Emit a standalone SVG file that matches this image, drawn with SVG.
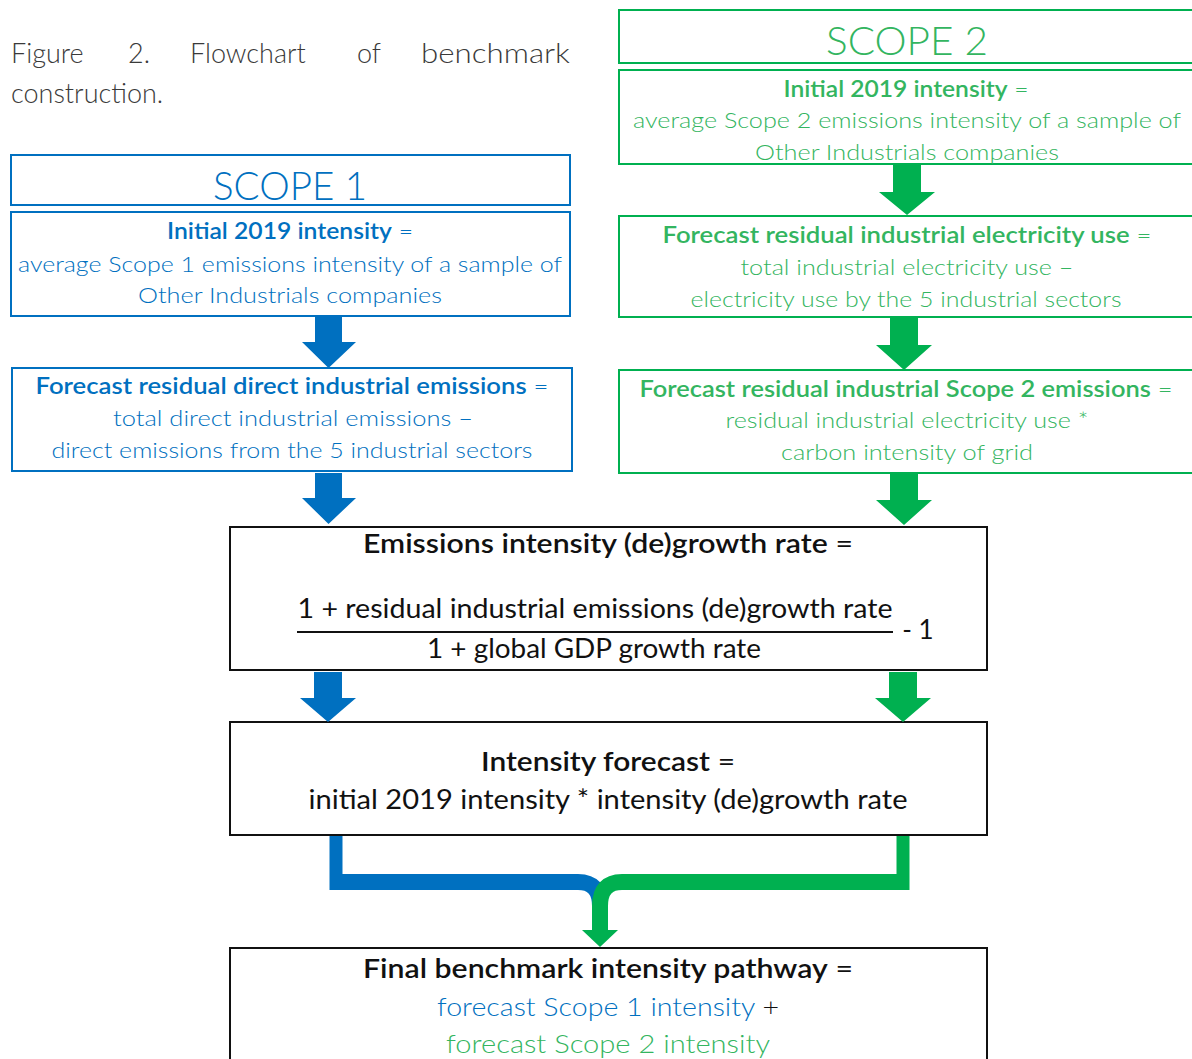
<svg xmlns="http://www.w3.org/2000/svg" width="1192" height="1059" viewBox="0 0 1192 1059">
<style>
text{font-family:Lato,"Noto Sans","DejaVu Sans",sans-serif;text-anchor:middle;font-weight:300}
.cap{font-size:27px;fill:#3a3a3a;text-anchor:start}
.t{font-size:22px}
.b{font-weight:600}
.blue{fill:#0070C0}
.green{fill:#33B560}
.blk{fill:#111}
.c{font-size:26px}
.r{font-weight:400}
.bb{fill:#fff;stroke:#0070C0;stroke-width:2}
.gb{fill:#fff;stroke:#00B050;stroke-width:2}
.kb{fill:#fff;stroke:#111;stroke-width:2}
.ba{fill:#0070C0}
.ga{fill:#00B050}
</style>
<g id="caption">
<text class="cap" x="11" y="63">Figure</text>
<text class="cap" x="128" y="63">2.</text>
<text class="cap" x="190" y="63">Flowchart</text>
<text class="cap" x="357" y="63">of</text>
<text class="cap" x="421" y="63" textLength="149" lengthAdjust="spacingAndGlyphs">benchmark</text>
<text class="cap" x="11" y="103">construction.</text>
</g>
<g id="scope1-title">
<rect class="bb" x="11" y="155" width="559" height="50"/>
<text class="blue" x="290" y="200" font-size="40" textLength="154" lengthAdjust="spacingAndGlyphs">SCOPE 1</text>
</g>
<g id="scope1-initial">
<rect class="bb" x="11" y="212" width="559" height="104"/>
<text class="t blue" x="290" y="239" textLength="246" lengthAdjust="spacingAndGlyphs"><tspan class="b">Initial 2019 intensity</tspan> =</text>
<text class="t blue" x="290" y="272" textLength="544" lengthAdjust="spacingAndGlyphs">average Scope 1 emissions intensity of a sample of</text>
<text class="t blue" x="290" y="303" textLength="304" lengthAdjust="spacingAndGlyphs">Other Industrials companies</text>
</g>
<g id="scope1-residual">
<rect class="bb" x="12" y="368" width="560" height="103"/>
<text class="t blue" x="292" y="394" textLength="513" lengthAdjust="spacingAndGlyphs"><tspan class="b">Forecast residual direct industrial emissions</tspan> =</text>
<text class="t blue" x="293" y="426" textLength="360" lengthAdjust="spacingAndGlyphs">total direct industrial emissions –</text>
<text class="t blue" x="292" y="458" textLength="481" lengthAdjust="spacingAndGlyphs">direct emissions from the 5 industrial sectors</text>
</g>
<g id="scope2-title">
<rect class="gb" x="619" y="10" width="590" height="53"/>
<text class="green" x="907" y="55" font-size="40" textLength="162" lengthAdjust="spacingAndGlyphs">SCOPE 2</text>
</g>
<g id="scope2-initial">
<rect class="gb" x="619" y="70" width="590" height="94"/>
<text class="t green" x="906" y="97" textLength="245" lengthAdjust="spacingAndGlyphs"><tspan class="b">Initial 2019 intensity</tspan> =</text>
<text class="t green" x="907" y="128" textLength="548" lengthAdjust="spacingAndGlyphs">average Scope 2 emissions intensity of a sample of</text>
<text class="t green" x="907" y="160" textLength="304" lengthAdjust="spacingAndGlyphs">Other Industrials companies</text>
</g>
<g id="scope2-electricity">
<rect class="gb" x="619" y="216" width="590" height="101"/>
<text class="t green" x="907" y="243" textLength="489" lengthAdjust="spacingAndGlyphs"><tspan class="b">Forecast residual industrial electricity use</tspan> =</text>
<text class="t green" x="907" y="275" textLength="333" lengthAdjust="spacingAndGlyphs">total industrial electricity use –</text>
<text class="t green" x="906" y="307" textLength="431" lengthAdjust="spacingAndGlyphs">electricity use by the 5 industrial sectors</text>
</g>
<g id="scope2-emissions">
<rect class="gb" x="619" y="370" width="590" height="103"/>
<text class="t green" x="906" y="397" textLength="533" lengthAdjust="spacingAndGlyphs"><tspan class="b">Forecast residual industrial Scope 2 emissions</tspan> =</text>
<text class="t green" x="907" y="428" textLength="363" lengthAdjust="spacingAndGlyphs">residual industrial electricity use *</text>
<text class="t green" x="907" y="460" textLength="252" lengthAdjust="spacingAndGlyphs">carbon intensity of grid</text>
</g>
<g id="growth-rate">
<rect class="kb" x="230" y="527" width="757" height="143"/>
<text class="c blk r" x="608" y="553" textLength="490" lengthAdjust="spacingAndGlyphs"><tspan class="b">Emissions intensity (de)growth rate</tspan> =</text>
<text class="c blk r" x="595" y="618" textLength="595" lengthAdjust="spacingAndGlyphs">1 + residual industrial emissions (de)growth rate</text>
<line x1="297" y1="632" x2="893" y2="632" stroke="#111" stroke-width="2"/>
<text class="c blk r" x="594" y="658" textLength="334" lengthAdjust="spacingAndGlyphs">1 + global GDP growth rate</text>
<text class="c blk r" x="918" y="639">- 1</text>
</g>
<g id="intensity-forecast">
<rect class="kb" x="230" y="722" width="757" height="113"/>
<text class="c blk r" x="608" y="771" textLength="254" lengthAdjust="spacingAndGlyphs"><tspan class="b">Intensity forecast</tspan> =</text>
<text class="c blk r" x="608" y="809" textLength="599" lengthAdjust="spacingAndGlyphs">initial 2019 intensity * intensity (de)growth rate</text>
</g>
<g id="final-pathway">
<rect class="kb" x="230" y="948" width="757" height="120"/>
<text class="c blk r" x="608" y="978" textLength="490" lengthAdjust="spacingAndGlyphs"><tspan class="b">Final benchmark intensity pathway</tspan> =</text>
<text class="c" x="608" y="1016" textLength="342" lengthAdjust="spacingAndGlyphs"><tspan class="blue">forecast Scope 1 intensity</tspan><tspan class="blk"> +</tspan></text>
<text class="c green" x="608" y="1053" textLength="324" lengthAdjust="spacingAndGlyphs">forecast Scope 2 intensity</text>
</g>
<g id="connectors">
<polygon class="ba" points="315,317 342,317 342,342 356,342 328.5,368 302,342 315,342"/>
<polygon class="ba" points="315,473 342,473 342,498 356,498 328.5,524 302,498 315,498"/>
<polygon class="ga" points="893,164 921,164 921,192 935,192 907,215 879,192 893,192"/>
<polygon class="ga" points="890,318 918,318 918,345 932,345 904,370 876,345 890,345"/>
<polygon class="ga" points="890,474 918,474 918,500 932,500 904,525 876,500 890,500"/>
<polygon class="ba" points="314,672 342,672 342,698 356,698 328,722 300,698 314,698"/>
<polygon class="ga" points="889,672 917,672 917,698 931,698 903,722 875,698 889,698"/>
<path d="M336,836 V890" fill="none" stroke="#0070C0" stroke-width="13"/>
<path d="M330,882 H578 Q600,882 600,906" fill="none" stroke="#0070C0" stroke-width="16"/>
<path d="M903,836 V890" fill="none" stroke="#00B050" stroke-width="13"/>
<path d="M909,882 H622 Q600,882 600,906 V932" fill="none" stroke="#00B050" stroke-width="16"/>
<polygon class="ga" points="582,930 618,930 600,947"/>
</g>
</svg>
